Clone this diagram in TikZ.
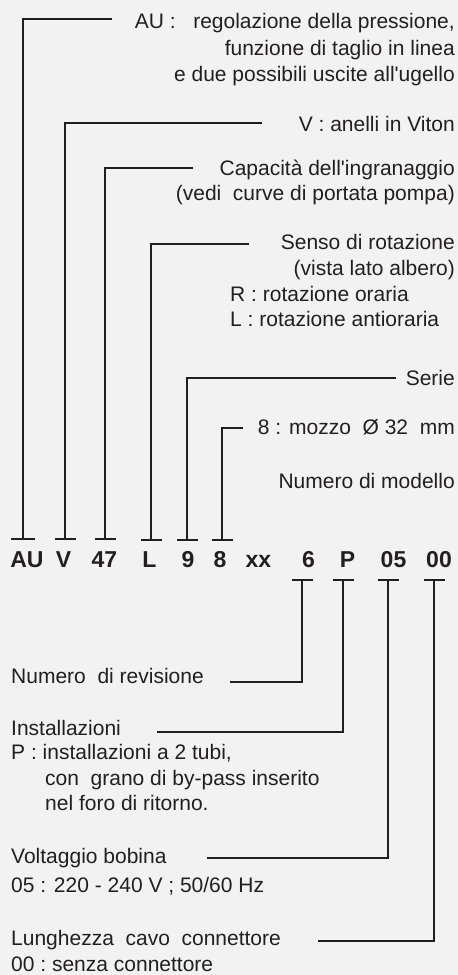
\documentclass[tikz,border=0pt]{standalone}
\usepackage{fontspec}
\setmainfont{Liberation Sans}
\usetikzlibrary{arrows.meta}
\definecolor{ink}{HTML}{231F20}
\definecolor{paper}{HTML}{F2F2F2}
\begin{document}
\begin{tikzpicture}[x=1pt,y=-1pt,
  lbl/.style={font=\fontsize{21}{26}\selectfont, text=ink, inner sep=0pt},
  lblR/.style={lbl, anchor=base east},
  lblL/.style={lbl, anchor=base west},
  code/.style={font=\fontsize{23}{28}\selectfont\bfseries, text=ink, inner sep=0pt, anchor=base},
  conn/.style={draw=ink, line width=2pt},
  tee/.style={conn, -{Bar[width=21pt]}},
  widetee/.style={conn, -{Bar[width=24pt]}}]
\fill[paper] (0,0) rectangle (458,975);
\useasboundingbox (0,0) rectangle (458,975);

% type code
\node[code] (cAU) at (27,567) {AU};
\node[code] (cV)  at (63.5,567) {V};
\node[code] (c47) at (104.5,567) {47};
\node[code] (cL)  at (149.5,567) {L};
\node[code] (c9)  at (188,567) {9};
\node[code] (c8)  at (220,567) {8};
\node[code] (cxx) at (258.5,567) {xx};
\node[code] (c6)  at (308.5,567) {6};
\node[code] (cP)  at (347.5,567) {P};
\node[code] (c05) at (393.5,567) {05};
\node[code] (c00) at (439,567) {00};

% descriptions above the code
\node[lblR] (au1) at (455,28) {AU :\ \ \ regolazione della pressione,};
\node[lblR] (au2) at (455,55) {funzione di taglio in linea};
\node[lblR] (au3) at (455,81) {e due possibili uscite all\textquotesingle ugello};
\node[lblR] (vit) at (455,131) {V : anelli in Viton};
\node[lblR] (cap1) at (455,175) {Capacità dell\textquotesingle ingranaggio};
\node[lblR] (cap2) at (455,200) {(vedi\ \ curve di portata pompa)};
\node[lblR] (rot1) at (455,249) {Senso di rotazione};
\node[lblR] (rot2) at (455,275) {(vista lato albero)};
\node[lblL] (rot3) at (230,301) {R : rotazione oraria};
\node[lblL] (rot4) at (230,326) {L : rotazione antioraria};
\node[lblR] (ser) at (455,385) {Serie};
\node[lblR] (moz) at (455,434) {8 : mozzo\ \ Ø 32\ \ mm};
\node[lblR] (mod) at (455,488) {Numero di modello};

% descriptions below the code
\node[lblL] (rev) at (11,683) {Numero\ \ di revisione};
\node[lblL] (ins1) at (11,735) {Installazioni};
\node[lblL] (ins2) at (11,759) {P : installazioni a 2 tubi,};
\node[lblL] (ins3) at (45,785) {con\ \ grano di by-pass inserito};
\node[lblL] (ins4) at (45,810) {nel foro di ritorno.};
\node[lblL] (vol1) at (11,863) {Voltaggio bobina};
\node[lblL] (vol2) at (11,892) {05 : 220 - 240 V ; 50/60 Hz};
\node[lblL] (lun1) at (11,945) {Lunghezza\ \ cavo\ \ connettore};
\node[lblL] (lun2) at (11,971) {00 :\ senza\ connettore};

% free ends of the leader lines
\coordinate (eAU) at (112,19);
\coordinate (eV)  at (262,123);
\coordinate (e47) at (193,168);
\coordinate (eL)  at (249,244);
\coordinate (e9)  at (396,378);
\coordinate (e8)  at (243,428);
\coordinate (e6)  at (230,682);
\coordinate (eP)  at (157,732);
\coordinate (e05) at (207,858);
\coordinate (e00) at (318,941);

% leaders ending in a bar above the code
\draw[widetee] (eAU) -| ([xshift=-4pt,yshift=27pt]cAU.base);
\draw[tee] (eV)  -| ([xshift=1.5pt,yshift=27pt]cV.base);
\draw[tee] (e47) -| ([xshift=0.5pt,yshift=27pt]c47.base);
\draw[tee] (eL)  -| ([xshift=1.5pt,yshift=26pt]cL.base);
\draw[tee] (e9)  -| ([xshift=-1pt,yshift=26pt]c9.base);
\draw[tee] (e8)  -| ([xshift=2pt,yshift=26pt]c8.base);

% leaders ending in a bar below the code
\draw[tee] (e6)  -| ([xshift=-6.5pt,yshift=-12pt]c6.base);
\draw[tee] (eP)  -| ([xshift=-4.5pt,yshift=-12pt]cP.base);
\draw[tee] (e05) -| ([xshift=-5.5pt,yshift=-12pt]c05.base);
\draw[tee] (e00) -| ([xshift=-5pt,yshift=-12pt]c00.base);
\end{tikzpicture}
\end{document}
